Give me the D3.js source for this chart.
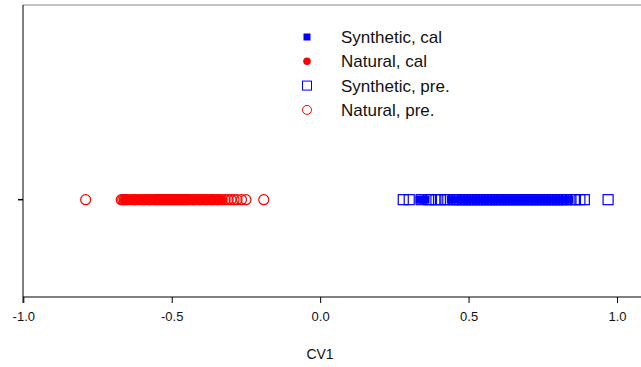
<!DOCTYPE html>
<html>
<head>
<meta charset="utf-8">
<script src="https://cdn.jsdelivr.net/npm/d3@7"></script>
<style>
  body { margin: 0; background: #fff; }
  svg { display: block; font-family: "Liberation Sans", Arial, sans-serif; }
</style>
</head>
<body>
<div id="chart"></div>
<script>
// CV1 scores
const naturalPre = [-0.79, -0.67, -0.665, -0.66, -0.655, -0.65, -0.64, -0.63, -0.625, -0.62, -0.61, -0.6,
  -0.595, -0.59, -0.58, -0.575, -0.57, -0.56, -0.555, -0.55, -0.545, -0.54, -0.535, -0.53, -0.525, -0.52,
  -0.515, -0.51, -0.505, -0.5, -0.495, -0.49, -0.485, -0.48, -0.475, -0.47, -0.465, -0.46, -0.455, -0.45,
  -0.445, -0.44, -0.43, -0.425, -0.42, -0.41, -0.405, -0.4, -0.39, -0.385, -0.38, -0.37, -0.365, -0.36,
  -0.35, -0.345, -0.34, -0.33, -0.32, -0.31, -0.3, -0.29, -0.28, -0.265, -0.25, -0.19];
const naturalCal = [-0.66, -0.645, -0.63, -0.615, -0.6, -0.585, -0.57, -0.56, -0.55, -0.54, -0.53, -0.52,
  -0.51, -0.5, -0.49, -0.48, -0.47, -0.46, -0.45, -0.44, -0.43, -0.42, -0.41, -0.4, -0.39, -0.38, -0.37,
  -0.36, -0.35, -0.34, -0.33];
const syntheticPre = [0.28, 0.3, 0.34, 0.365, 0.375, 0.39, 0.405, 0.42, 0.43, 0.45, 0.46, 0.47, 0.48,
  0.49, 0.5, 0.51, 0.52, 0.53, 0.54, 0.55, 0.56, 0.57, 0.58, 0.59, 0.6, 0.61, 0.62, 0.63, 0.64, 0.65,
  0.66, 0.67, 0.68, 0.69, 0.7, 0.71, 0.72, 0.73, 0.74, 0.75, 0.76, 0.77, 0.78, 0.79, 0.8, 0.81, 0.82,
  0.83, 0.845, 0.86, 0.875, 0.89, 0.97];
const syntheticCal = [0.335, 0.345, 0.355, 0.44, 0.465, 0.48, 0.495, 0.51, 0.525, 0.54, 0.555, 0.57,
  0.585, 0.6, 0.615, 0.63, 0.645, 0.66, 0.675, 0.69, 0.705, 0.72, 0.735, 0.75, 0.765, 0.78, 0.795,
  0.81, 0.825, 0.84];
const xTicks = [-1.0, -0.5, 0.0, 0.5, 1.0];
const legendLabels = ["Synthetic, cal", "Natural, cal", "Synthetic, pre.", "Natural, pre."];

const width = 641, height = 367;
const plotLeft = 23, plotTop = 5, plotBottom = 297, plotRight = 641;
const blue = "#0000ff", red = "#ff0000";

const svg = d3.select("#chart").append("svg")
  .attr("width", width)
  .attr("height", height);

const x = d3.scaleLinear().domain([-1, 1]).range([23.3, 617]);
// single categorical row, sits a third of the way up the plot
const y = d3.scaleLinear().domain([-1, 2]).range([plotBottom, plotTop]);
const cy = y(0);

// frame
svg.append("line").attr("x1", plotLeft).attr("x2", plotRight).attr("y1", plotTop).attr("y2", plotTop)
  .attr("stroke", "#888").attr("stroke-width", 1.2);
svg.append("line").attr("x1", plotLeft).attr("x2", plotLeft).attr("y1", plotTop).attr("y2", plotBottom + 6)
  .attr("stroke", "#000").attr("stroke-width", 1);
svg.append("line").attr("x1", plotLeft).attr("x2", plotRight).attr("y1", plotBottom).attr("y2", plotBottom)
  .attr("stroke", "#000").attr("stroke-width", 1);

// x axis
const xAxis = svg.append("g").attr("transform", `translate(0,${plotBottom})`)
  .call(d3.axisBottom(x).tickValues(xTicks).tickFormat(d3.format(".1f")).tickSize(6).tickSizeOuter(0));
xAxis.select(".domain").remove();
xAxis.selectAll("text").attr("font-size", 13).attr("font-family", "Liberation Sans, Arial")
  .attr("fill", "#111").attr("dy", "1.15em")
  .text(d => d3.format(".1f")(d).replace("−", "-"));

// y tick
svg.append("line").attr("x1", plotLeft - 5).attr("x2", plotLeft).attr("y1", cy).attr("y2", cy)
  .attr("stroke", "#000").attr("stroke-width", 1.5);

svg.append("text").attr("x", 320).attr("y", 359).attr("text-anchor", "middle")
  .attr("font-size", 14).attr("fill", "#111").text("CV1");

const sq = 10;

// points
svg.append("g").selectAll("rect").data(syntheticPre).join("rect")
  .attr("x", d => x(d) - sq / 2).attr("y", cy - sq / 2).attr("width", sq).attr("height", sq)
  .attr("fill", "none").attr("stroke", blue).attr("stroke-width", 1.2);
svg.append("g").selectAll("rect").data(syntheticCal).join("rect")
  .attr("x", d => x(d) - 4).attr("y", cy - 4).attr("width", 8).attr("height", 8)
  .attr("fill", blue);
svg.append("g").selectAll("circle").data(naturalPre).join("circle")
  .attr("cx", d => x(d)).attr("cy", cy).attr("r", 5)
  .attr("fill", "none").attr("stroke", red).attr("stroke-width", 1.2);
svg.append("g").selectAll("circle").data(naturalCal).join("circle")
  .attr("cx", d => x(d)).attr("cy", cy).attr("r", 4.3)
  .attr("fill", red);

// legend
const lg = svg.append("g").attr("transform", "translate(307,37)");
const rowH = 24.3;
lg.append("rect").attr("x", -3.5).attr("y", -3.5).attr("width", 7).attr("height", 7).attr("fill", blue);
lg.append("circle").attr("cx", 0).attr("cy", rowH).attr("r", 3.8).attr("fill", red);
lg.append("rect").attr("x", -4.5).attr("y", 2 * rowH - 4.5).attr("width", 9).attr("height", 9)
  .attr("fill", "none").attr("stroke", blue);
lg.append("circle").attr("cx", 0).attr("cy", 3 * rowH).attr("r", 4.5)
  .attr("fill", "none").attr("stroke", red);
lg.selectAll("text").data(legendLabels).join("text")
  .attr("x", 34).attr("y", (d, i) => i * rowH).attr("dy", "0.36em")
  .attr("font-size", 17).attr("fill", "#111").text(d => d);
</script>
</body>
</html>
